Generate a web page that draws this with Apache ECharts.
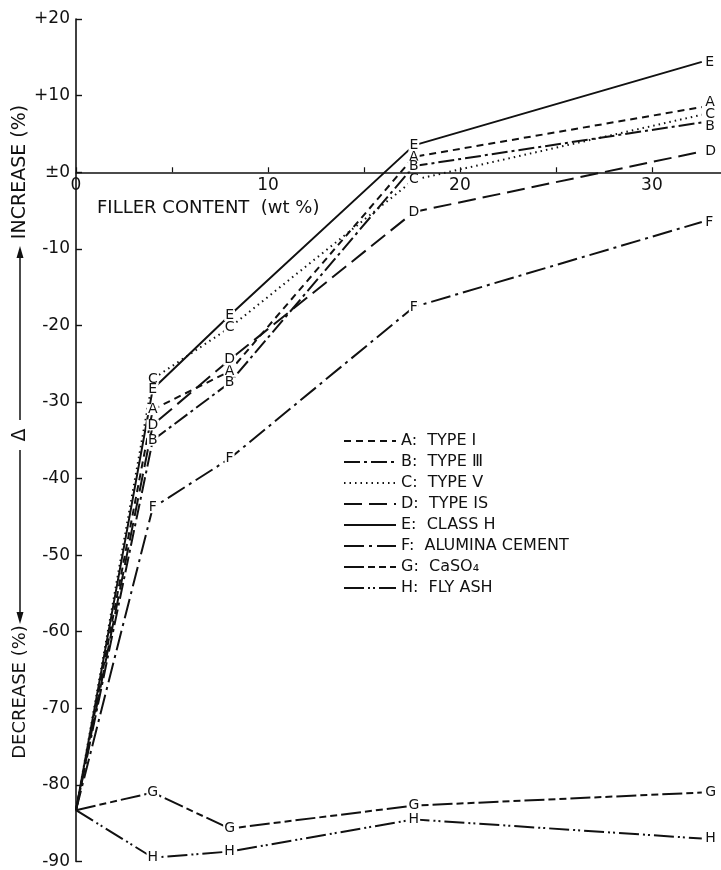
<!DOCTYPE html>
<html>
<head>
<meta charset="utf-8">
<script src="https://cdn.jsdelivr.net/npm/echarts@6/dist/echarts.min.js"></script>
<style>
html,body{margin:0;padding:0;background:#fff;}
#chart{width:721px;height:870px;}
</style>
</head>
<body>
<div id="chart"></div>
<script>
// Filler content (wt %) for each measured point
var fillerContent = [0, 4, 8, 17.6, 32.6];

// Change (%) for each material
var typeI_A      = [-83.3, -31.0, -26.0, 2.0, 8.5];
var typeIII_B    = [-83.3, -35.0, -27.5, 0.8, 6.5];
var typeV_C      = [-83.3, -27.0, -20.3, -1.0, 7.5];
var typeIS_D     = [-83.3, -33.0, -24.5, -5.2, 2.7];
var classH_E     = [-83.3, -28.3, -18.7, 3.5, 14.4];
var alumina_F    = [-83.3, -43.8, -37.4, -17.6, -6.5];
var caso4_G      = [-83.3, -81.0, -85.7, -82.7, -81.0];
var flyash_H     = [-83.3, -89.5, -88.7, -84.5, -87.0];

var seriesNames  = ['A:  TYPE Ⅰ', 'B:  TYPE Ⅲ', 'C:  TYPE Ⅴ', 'D:  TYPE IS', 'E:  CLASS H', 'F:  ALUMINA CEMENT', 'G:  CaSO₄', 'H:  FLY ASH'];
var seriesLetters = ['A', 'B', 'C', 'D', 'E', 'F', 'G', 'H'];
var seriesValues = [typeI_A, typeIII_B, typeV_C, typeIS_D, classH_E, alumina_F, caso4_G, flyash_H];

// y tick labels
var yTickLabels = {'20':'+20','10':'+10','0':'±0'};

// styling only
var dashes = [
  [7, 5],
  [16, 4, 3, 4],
  [1.5, 4],
  [18, 7],
  'solid',
  [20, 5, 3, 5],
  [20, 4, 7, 4, 7, 4],
  [20, 4, 2, 3, 2, 4]
];
var endLabelShift = [-5, 4, 0, 0, 0, 0, 0, 0];

var FONT = 'DejaVu Sans';
var INK = '#111';

var Y_MIN = -90, Y_MAX = 20, GRID_TOP = 19, GRID_BOTTOM = 8, H = 870;
var plotH = H - GRID_TOP - GRID_BOTTOM;
var zeroOffset = -(Y_MAX / (Y_MAX - Y_MIN)) * plotH;

var series = seriesValues.map(function (vals, s) {
  var last = vals.length - 1;
  return {
    name: seriesNames[s],
    type: 'line',
    symbol: 'circle',
    symbolSize: 1,
    showSymbol: true,
    silent: true,
    animation: false,
    lineStyle: {color: INK, width: 2, type: dashes[s]},
    itemStyle: {color: 'rgba(0,0,0,0)'},
    data: vals.map(function (v, i) {
      return {
        value: [fillerContent[i], v],
        label: {
          show: i > 0,
          position: i === last ? 'right' : 'inside',
          distance: 2,
          offset: i === last ? [0, endLabelShift[s]] : [0, 0]
        }
      };
    }),
    label: {
      formatter: function () { return seriesLetters[s]; },
      color: INK,
      fontFamily: FONT,
      fontSize: 14,
      lineHeight: 11,
      backgroundColor: '#fff',
      padding: [0, 1]
    }
  };
});

var chart = echarts.init(document.getElementById('chart'), null, {renderer: 'canvas'});
chart.setOption({
  backgroundColor: '#fff',
  animation: false,
  grid: {left: 76, right: 0, top: GRID_TOP, bottom: GRID_BOTTOM, containLabel: false},
  xAxis: {
    type: 'value',
    position: 'top',
    offset: zeroOffset,
    min: 0, max: 33.6, interval: 5,
    axisLine: {onZero: false, lineStyle: {color: INK, width: 1.6}},
    axisTick: {inside: false, length: 5, lineStyle: {color: INK, width: 1.2}},
    splitLine: {show: false},
    axisLabel: {
      inside: true,
      color: INK, fontFamily: FONT, fontSize: 17, margin: 5,
      showMaxLabel: false,
      formatter: function (v) { return v % 10 === 0 ? String(v) : ''; }
    }
  },
  yAxis: {
    type: 'value',
    min: Y_MIN, max: Y_MAX, interval: 10,
    axisLine: {onZero: false, lineStyle: {color: INK, width: 1.6}},
    axisTick: {inside: true, length: 6, lineStyle: {color: INK, width: 1.4}},
    splitLine: {show: false},
    axisLabel: {
      color: INK, fontFamily: FONT, fontSize: 17, margin: 6,
      formatter: function (v) { return yTickLabels[String(v)] || String(v); }
    }
  },
  legend: {
    orient: 'vertical',
    left: 343, top: 433,
    padding: 0,
    itemWidth: 52, itemHeight: 14, itemGap: 5,
    selectedMode: false,
    textStyle: {color: INK, fontFamily: FONT, fontSize: 16, lineHeight: 14},
    data: seriesNames
  },
  graphic: [
    {type: 'text', x: 97, y: 208, style: {text: 'FILLER CONTENT  (wt %)', fill: INK, font: '18px "DejaVu Sans"', align: 'left', verticalAlign: 'middle'}},
    {type: 'text', x: 20, y: 172, rotation: Math.PI / 2, style: {text: 'INCREASE (%)', fill: INK, font: '19px "DejaVu Sans"', align: 'center', verticalAlign: 'middle'}},
    {type: 'line', shape: {x1: 20, y1: 256, x2: 20, y2: 420}, style: {stroke: INK, lineWidth: 1.5}},
    {type: 'polygon', shape: {points: [[20, 246], [16.5, 258], [23.5, 258]]}, style: {fill: INK}},
    {type: 'text', x: 20, y: 435, rotation: Math.PI / 2, style: {text: 'Δ', fill: INK, font: '19px "DejaVu Sans"', align: 'center', verticalAlign: 'middle'}},
    {type: 'line', shape: {x1: 20, y1: 450, x2: 20, y2: 614}, style: {stroke: INK, lineWidth: 1.5}},
    {type: 'polygon', shape: {points: [[20, 624], [16.5, 612], [23.5, 612]]}, style: {fill: INK}},
    {type: 'text', x: 20, y: 692, rotation: Math.PI / 2, style: {text: 'DECREASE (%)', fill: INK, font: '18px "DejaVu Sans"', align: 'center', verticalAlign: 'middle'}}
  ],
  series: series
});
</script>
</body>
</html>
